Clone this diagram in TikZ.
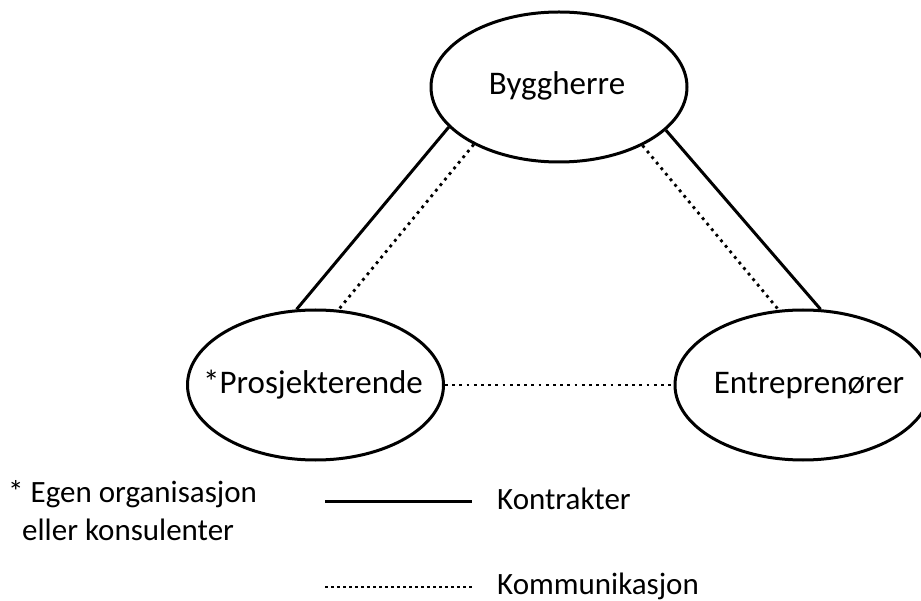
\documentclass[tikz,border=0pt]{standalone}
\usepackage{fontspec}
\setmainfont{Carlito}
\usetikzlibrary{shapes.geometric}
\begin{document}
\begin{tikzpicture}[x=1pt,y=-1pt,
  party/.style={ellipse,draw,line width=3pt,minimum width=256pt,minimum height=150pt,inner sep=0pt},
  partytext/.style={inner sep=0pt,font=\fontsize{33}{39}\selectfont},
  contract/.style={line width=3pt},
  comm/.style={line width=2.8pt,dash pattern=on 2.8pt off 4.4pt},
  legendtext/.style={anchor=west,inner sep=0pt,font=\fontsize{31}{37}\selectfont}]
\clip (0,0) rectangle (921,601);
% parties
\node[party] (B) at (559,87) {};
\node[partytext] (Bt) at (557,86) {Byggherre};
\node[party] (P) at (315.5,385) {};
\node[partytext] (Pt) at (313,385) {*Prosjekterende};
\node[party] (E) at (803,385) {};
\node[partytext] (Et) at (809,386) {Entreprenører};
% contracts
\draw[contract] (B.200.6) -- (P.104.6);
\draw[contract] (B.338.9) -- (E.77.2);
% communication
\draw[comm] (B.214.3) -- (P.73);
\draw[comm] (B.325.9) -- (E.108);
\draw[comm] (P.east) -- (E.west);
% legend
\node[legendtext] (n1) at (8,494) {* Egen organisasjon};
\node[legendtext] (n2) at (22,530) {eller konsulenter};
\coordinate (k0) at (325,501);
\coordinate (k1) at (472,501);
\draw[contract] (k0) -- (k1);
\node[legendtext] (kt) at (497,499) {Kontrakter};
\coordinate (c0) at (325,587);
\coordinate (c1) at (472,587);
\draw[line width=2.6pt,dash pattern=on 2.6pt off 3.4pt] (c0) -- (c1);
\node[legendtext] (ct) at (497,586) {Kommunikasjon};
\end{tikzpicture}
\end{document}
